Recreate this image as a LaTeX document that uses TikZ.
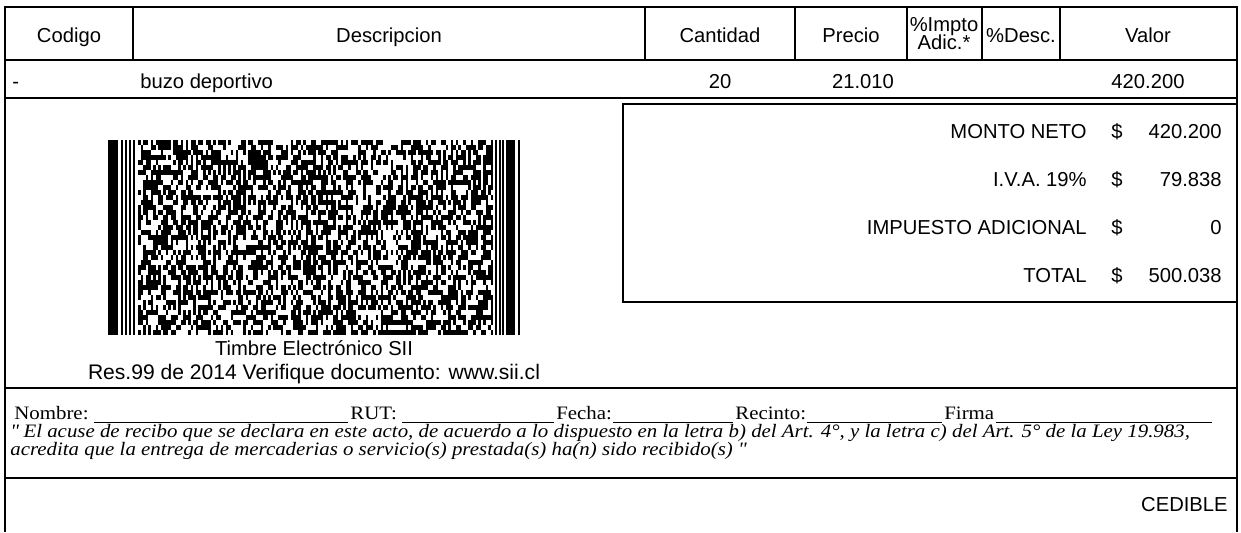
\documentclass[tikz,border=0pt]{standalone}
\usepackage{fontspec}
\setmainfont{Liberation Serif}[FakeStretch=1.1]
\setsansfont{Liberation Sans}
\usetikzlibrary{positioning,calc}
\tikzset{
    cell/.style={
        font=\sffamily\fontsize{11.5}{13}\selectfont,
        inner sep=0pt,
        anchor=base
    },
    firma/.style={
        font=\rmfamily\fontsize{10.8}{12}\selectfont,
        inner sep=0pt,
        anchor=base west
    },
    acuse/.style={
        firma,
        font=\rmfamily\itshape\fontsize{10.8}{12}\selectfont
    },
    rule/.style={line width=1pt},
    boxrule/.style={line width=1.4pt},
    blank/.style={line width=0.5pt}
}

\begin{document}
\begin{tikzpicture}[x=0.02cm, y=-0.02cm]
  \useasboundingbox (0,0) rectangle (1241,532);

  % Outer frame and table lines
  \draw[rule] (5,532) -- (5,7) -- (1237,7) -- (1237,532);
  \draw[rule] (5,60) -- (1237,60);
  \draw[rule] (5,98) -- (1237,98);
  \foreach \x in {133,645,795,907,982,1060} {
    \draw[rule] (\x,7) -- (\x,60);
  }
  \draw[rule] (5,388) -- (1237,388);
  \draw[rule] (5,478) -- (1237,478);

  % Header row
  \node[cell] (codigo) at (69,42) {Codigo};
  \node[cell] (descripcion) at (389,42) {Descripcion};
  \node[cell] (cantidad) at (720,42) {Cantidad};
  \node[cell] (precio) at (851,42) {Precio};
  \node[cell] (impto) at (944,31) {\%Impto};
  \node[cell] (adic) at (944,49) {Adic.*};
  \node[cell] (dscto) at (1021,42) {\%Desc.};
  \node[cell] (valor) at (1148,42) {Valor};

  % Item row
  \node[cell, anchor=base west] (cod1) at (12,88) {-};
  \node[cell, anchor=base west] (desc1) at (140,88) {buzo deportivo};
  \node[cell] (cant1) at (720,88) {20};
  \node[cell] (prec1) at (863,88) {21.010};
  \node[cell] (val1) at (1148,88) {420.200};

  % Totals box
  \draw[boxrule] (623,104) rectangle (1237,302);
  \foreach \lab/\val [count=\i] in {MONTO NETO/420.200, I.V.A. 19\%/79.838, IMPUESTO ADICIONAL/0, TOTAL/500.038} {
    \pgfmathsetmacro{\yb}{138+48*(\i-1)}
    \node[cell, anchor=base east] (lab\i) at (1087,\yb) {\lab};
    \node[cell] (cur\i) at (1117,\yb) {\$};
    \node[cell, anchor=base east] (val\i) at (1222,\yb) {\val};
  }

  % Timbre electronico (PDF417)
  \pgfmathsetseed{2014}
  \fill (108,140) rectangle (118,335);
  \foreach \x/\w in {121/2, 125/1.5, 129/1.5, 133/2} {
    \fill (\x,140) rectangle ++(\w,195);
  }
  \foreach \r in {0,...,38} {
    \foreach \c in {0,...,141} {
      \pgfmathtruncatemacro{\on}{rnd<0.55}
      \ifnum\on=1
        \fill (138+2.5*\c,140+5*\r) rectangle ++(2.5,5);
      \fi
    }
  }
  \foreach \x/\w in {495/1.5, 499/2, 502/1.5} {
    \fill (\x,140) rectangle ++(\w,195);
  }
  \fill (506,140) rectangle (515,335);
  \fill (518,140) rectangle (520,335);
  \node[cell] (timbre) at (314,355) {Timbre Electrónico SII};
  \node[cell, font=\sffamily\fontsize{12}{13}\selectfont] (res) at (314,379) {Res.99 de 2014 Verifique documento: www.sii.cl};

  % Acuse de recibo
  \node[firma] (nombre) at (14,419) {Nombre:};
  \node[firma] (rut) at (350,419) {RUT:};
  \node[firma] (fecha) at (556,419) {Fecha:};
  \node[firma] (recinto) at (735,419) {Recinto:};
  \node[firma] (firma) at (944,419) {Firma};
  \coordinate (fin) at (1212,422);
  \foreach \a/\b/\g in {nombre/rut/5, rut/fecha/5, fecha/recinto/1, recinto/firma/1} {
    \draw[blank] ($(\a.base east)+(\g,3)$) -- ($(\b.base west)+(-2,3)$);
  }
  \draw[blank] ($(firma.base east)+(1,3)$) -- (fin);
  \node[acuse] (acuse1) at (10,437) {\textquotedbl{} El acuse de recibo que se declara en este acto, de acuerdo a lo dispuesto en la letra b) del Art. 4°, y la letra c) del Art. 5° de la Ley 19.983,};
  \node[acuse] (acuse2) at (10,455) {acredita que la entrega de mercaderias o servicio(s) prestada(s) ha(n) sido recibido(s) \textquotedbl};

  \node[cell, anchor=base east] (cedible) at (1228,511) {CEDIBLE};
\end{tikzpicture}
\end{document}
